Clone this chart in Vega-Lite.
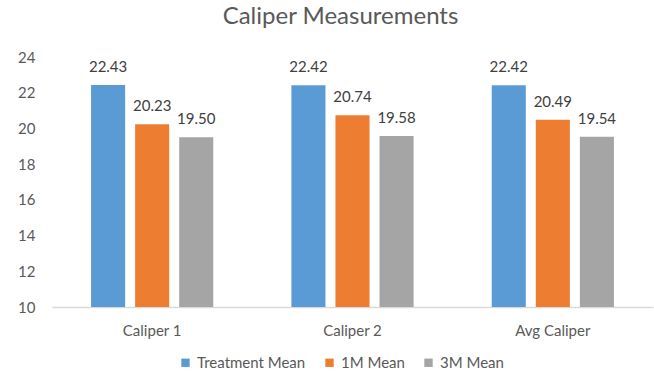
{
  "$schema": "https://vega.github.io/schema/vega-lite/v6.json",
  "autosize": "none",
  "width": 601,
  "height": 250,
  "padding": {"left": 52, "top": 57, "right": 1, "bottom": 65},
  "background": "white",
  "config": {
    "view": {"stroke": null},
    "font": "Lato",
    "axis": {"labelFont": "Lato", "labelColor": "#595959", "labelFontSize": 15, "ticks": false, "title": null, "labelOverlap": false},
    "legend": {"labelFont": "Lato", "labelColor": "#595959", "labelFontSize": 15}
  },
  "title": {
    "text": "Caliper Measurements",
    "fontSize": 24,
    "fontWeight": "normal",
    "color": "#595959",
    "font": "Lato",
    "anchor": "middle",
    "dx": -12,
    "offset": 21
  },
  "data": {
    "values": [
      {"group": "Caliper 1", "series": "Treatment Mean", "value": 22.43},
      {"group": "Caliper 1", "series": "1M Mean", "value": 20.23},
      {"group": "Caliper 1", "series": "3M Mean", "value": 19.50},
      {"group": "Caliper 2", "series": "Treatment Mean", "value": 22.42},
      {"group": "Caliper 2", "series": "1M Mean", "value": 20.74},
      {"group": "Caliper 2", "series": "3M Mean", "value": 19.58},
      {"group": "Avg Caliper", "series": "Treatment Mean", "value": 22.42},
      {"group": "Avg Caliper", "series": "1M Mean", "value": 20.49},
      {"group": "Avg Caliper", "series": "3M Mean", "value": 19.54}
    ]
  },
  "encoding": {
    "x": {
      "field": "group",
      "type": "nominal",
      "sort": ["Caliper 1", "Caliper 2", "Avg Caliper"],
      "scale": {"paddingInner": 0.39, "paddingOuter": 0.195},
      "axis": {"labelAngle": 0, "domain": true, "domainColor": "#d9d9d9", "domainWidth": 1.5, "labelPadding": 16}
    },
    "xOffset": {
      "field": "series",
      "type": "nominal",
      "sort": ["Treatment Mean", "1M Mean", "3M Mean"],
      "scale": {"paddingInner": 0.227, "paddingOuter": 0}
    },
    "y": {
      "field": "value",
      "type": "quantitative",
      "scale": {"domain": [10, 24], "nice": false, "zero": false},
      "axis": {"values": [10, 12, 14, 16, 18, 20, 22, 24], "grid": false, "domain": false, "labelPadding": 17, "labelOverlap": false, "labelFlush": false}
    }
  },
  "layer": [
    {
      "mark": {"type": "bar"},
      "encoding": {
        "y2": {"datum": 10},
        "color": {
          "field": "series",
          "type": "nominal",
          "sort": ["Treatment Mean", "1M Mean", "3M Mean"],
          "scale": {"domain": ["Treatment Mean", "1M Mean", "3M Mean"], "range": ["#5B9BD5", "#ED7D31", "#A5A5A5"]},
          "legend": {
            "title": null,
            "orient": "none",
            "direction": "horizontal",
            "legendX": 126,
            "legendY": 298,
            "symbolType": "square",
            "symbolSize": 70,
            "symbolStrokeWidth": 0,
            "columnPadding": 16,
            "labelOffset": 4
          }
        }
      }
    },
    {
      "mark": {"type": "text", "baseline": "bottom", "dy": -10, "fontSize": 15, "color": "#404040", "font": "Lato"},
      "encoding": {
        "text": {"field": "value", "type": "quantitative", "format": ".2f"}
      }
    }
  ]
}
